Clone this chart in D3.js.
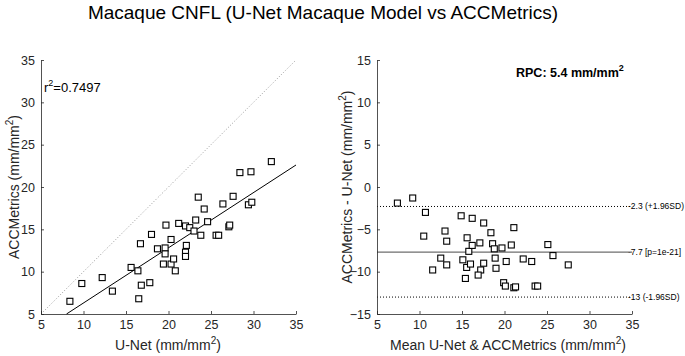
<!DOCTYPE html>
<html>
<head>
<meta charset="utf-8">
<script src="https://d3js.org/d3.v7.min.js"></script>
<style>
  body { margin: 0; background: #fff; }
  svg { font-family: "Liberation Sans", Arial, sans-serif; }
  .axis path, .axis line { stroke: #262626; stroke-width: 0.8px; }
  .axis text { font-size: 12.5px; fill: #262626; font-family: "Liberation Sans", Arial, sans-serif; }
  .pt { fill: #fff; stroke: #000; stroke-width: 1.1px; }
</style>
</head>
<body>
<script>
// left panel: U-Net vs ACCMetrics
const unet = [8.4, 9.8, 12.2, 13.4, 15.6, 16.4, 16.7, 16.8, 16.5, 17.8, 18.0, 18.7, 19.7, 19.6, 19.6,
  19.4, 20.3, 20.3, 20.6, 20.8, 21.2, 22.0, 22.5, 22.1, 22.0, 22.0, 23.2, 23.0, 23.5, 23.8,
  24.2, 24.6, 25.6, 25.9, 26.4, 27.1, 27.2, 27.6, 29.4, 29.8, 28.4, 29.7, 32.1];
const acc = [6.5, 8.6, 9.3, 7.7, 10.5, 10.1, 13.3, 8.4, 6.8, 8.7, 14.4, 12.7, 15.5, 12.8, 12.1,
  10.9, 13.8, 10.9, 11.5, 10.1, 15.7, 15.4, 15.2, 13.1, 12.3, 11.8, 16.1, 14.8, 18.8, 14.3,
  17.4, 15.9, 14.3, 14.3, 18.0, 15.3, 15.5, 18.9, 17.9, 18.2, 21.7, 21.8, 23.0];
const fitLine = [[8.0, 5.0], [35, 22.6]];
const identityLine = [[5, 5], [35, 35]];
const r2Text = "0.7497";

// right panel: Bland-Altman
const baMean = [7.4, 9.2, 10.7, 10.5, 11.55, 12.5, 13.0, 13.2, 13.2, 14.9, 15.1, 15.4, 15.55, 15.6, 15.8,
  16.0, 16.2, 16.2, 17.1, 17.2, 16.9, 17.55, 17.55, 18.4, 18.6, 18.8, 18.9, 19.0, 19.7, 20.2,
  19.9, 20.1, 20.8, 21.1, 21.1, 21.3, 22.2, 23.2, 23.6, 23.9, 25.1, 25.7, 27.5];
const baDiff = [-1.9, -1.3, -3.0, -5.8, -9.8, -8.4, -5.2, -6.4, -9.2, -3.4, -8.6, -10.8, -9.5, -6.0, -7.6,
  -9.1, -3.7, -6.9, -6.6, -9.8, -10.4, -4.25, -9.0, -5.4, -6.7, -7.3, -8.4, -9.6, -7.2, -8.8,
  -11.3, -11.7, -6.85, -4.8, -11.9, -11.8, -8.5, -8.8, -11.7, -11.7, -6.8, -8.1, -9.2];
const baLines = [-2.3, -7.7, -13];
const baLabels = ["-2.3 (+1.96SD)", "-7.7 [p=1e-21]", "-13 (-1.96SD)"];
const rpcText = "RPC: 5.4 mm/mm";

const xTicks = [5, 10, 15, 20, 25, 30, 35];
const yTicksL = [5, 10, 15, 20, 25, 30, 35];
const yTicksR = [-15, -10, -5, 0, 5, 10, 15];

const width = 685, height = 356;
const plotTop = 60, plotBottom = 314;

const svg = d3.select("body").append("svg")
  .attr("width", width)
  .attr("height", height);

svg.append("text")
  .attr("x", 323).attr("y", 19)
  .attr("text-anchor", "middle")
  .attr("font-size", 19)
  .attr("fill", "#000")
  .text("Macaque CNFL (U-Net Macaque Model vs ACCMetrics)");

function axes(g, x, y, yTicks) {
  g.append("g").attr("class", "axis")
    .attr("transform", "translate(0," + plotBottom + ")")
    .call(d3.axisBottom(x).tickValues(xTicks).tickSizeInner(-3).tickSizeOuter(0).tickPadding(6));
  g.append("g").attr("class", "axis")
    .attr("transform", "translate(" + x.range()[0] + ",0)")
    .call(d3.axisLeft(y).tickValues(yTicks).tickSizeInner(-3).tickSizeOuter(0).tickPadding(6));
}

function squares(g, xs, ys, x, y) {
  g.selectAll("rect.pt").data(xs).enter().append("rect")
    .attr("class", "pt")
    .attr("x", (d) => x(d) - 3)
    .attr("y", (d, i) => y(ys[i]) - 3)
    .attr("width", 6).attr("height", 6);
}

// ----- left panel
const xL = d3.scaleLinear().domain([5, 35]).range([41, 296]);
const yL = d3.scaleLinear().domain([5, 35]).range([plotBottom, plotTop]);
const gL = svg.append("g");

let line = d3.line().x((d) => xL(d[0])).y((d) => yL(d[1]));

gL.append("path")
  .attr("d", line(identityLine))
  .attr("fill", "none")
  .attr("stroke", "#999")
  .attr("stroke-width", 1)
  .attr("stroke-dasharray", "1,2");

gL.append("path")
  .attr("d", line(fitLine))
  .attr("fill", "none")
  .attr("stroke", "#000")
  .attr("stroke-width", 1);

squares(gL, unet, acc, xL, yL);
axes(gL, xL, yL, yTicksL);

let r2 = gL.append("text").attr("x", 44).attr("y", 92).attr("font-size", 13).attr("fill", "#000");
r2.append("tspan").text("r");
r2.append("tspan").attr("dy", -6).attr("font-size", 9).text("2");
r2.append("tspan").attr("dy", 6).text("=" + r2Text);

let xlabL = gL.append("text").attr("x", 168).attr("y", 350).attr("text-anchor", "middle")
  .attr("font-size", 14).attr("fill", "#262626");
xlabL.append("tspan").text("U-Net (mm/mm");
xlabL.append("tspan").attr("dy", -6).attr("font-size", 10).text("2");
xlabL.append("tspan").attr("dy", 6).text(")");

let ylabL = gL.append("text").attr("transform", "translate(19,187) rotate(-90)")
  .attr("text-anchor", "middle").attr("font-size", 14).attr("fill", "#262626");
ylabL.append("tspan").text("ACCMetrics (mm/mm");
ylabL.append("tspan").attr("dy", -6).attr("font-size", 10).text("2");
ylabL.append("tspan").attr("dy", 6).text(")");

// ----- right panel
const xR = d3.scaleLinear().domain([5, 35]).range([377, 632]);
const yR = d3.scaleLinear().domain([-15, 15]).range([plotBottom, plotTop]);
const gR = svg.append("g");

baLines.forEach(function (v, i) {
  gR.append("text")
    .attr("x", xR(35) - 4).attr("y", yR(v) + 3)
    .attr("font-size", 8.5).attr("fill", "#000")
    .text(baLabels[i]);
  gR.append("line")
    .attr("x1", xR(5)).attr("x2", xR(35))
    .attr("y1", yR(v)).attr("y2", yR(v))
    .attr("stroke", i == 1 ? "#6e6e6e" : "#000")
    .attr("stroke-width", i == 1 ? 1.2 : 1)
    .attr("stroke-dasharray", i == 1 ? null : "1,2");
});

squares(gR, baMean, baDiff, xR, yR);
axes(gR, xR, yR, yTicksR);

let rpc = gR.append("text").attr("x", 516).attr("y", 77).attr("font-size", 12.5)
  .attr("font-weight", "bold").attr("fill", "#000");
rpc.append("tspan").text(rpcText);
rpc.append("tspan").attr("dy", -6).attr("font-size", 9).text("2");

let xlabR = gR.append("text").attr("x", 508).attr("y", 350).attr("text-anchor", "middle")
  .attr("font-size", 14).attr("fill", "#262626");
xlabR.append("tspan").text("Mean U-Net & ACCMetrics (mm/mm");
xlabR.append("tspan").attr("dy", -6).attr("font-size", 10).text("2");
xlabR.append("tspan").attr("dy", 6).text(")");

let ylabR = gR.append("text").attr("transform", "translate(352,187) rotate(-90)")
  .attr("text-anchor", "middle").attr("font-size", 14).attr("fill", "#262626");
ylabR.append("tspan").text("ACCMetrics - U-Net (mm/mm");
ylabR.append("tspan").attr("dy", -6).attr("font-size", 10).text("2");
ylabR.append("tspan").attr("dy", 6).text(")");
</script>
</body>
</html>
